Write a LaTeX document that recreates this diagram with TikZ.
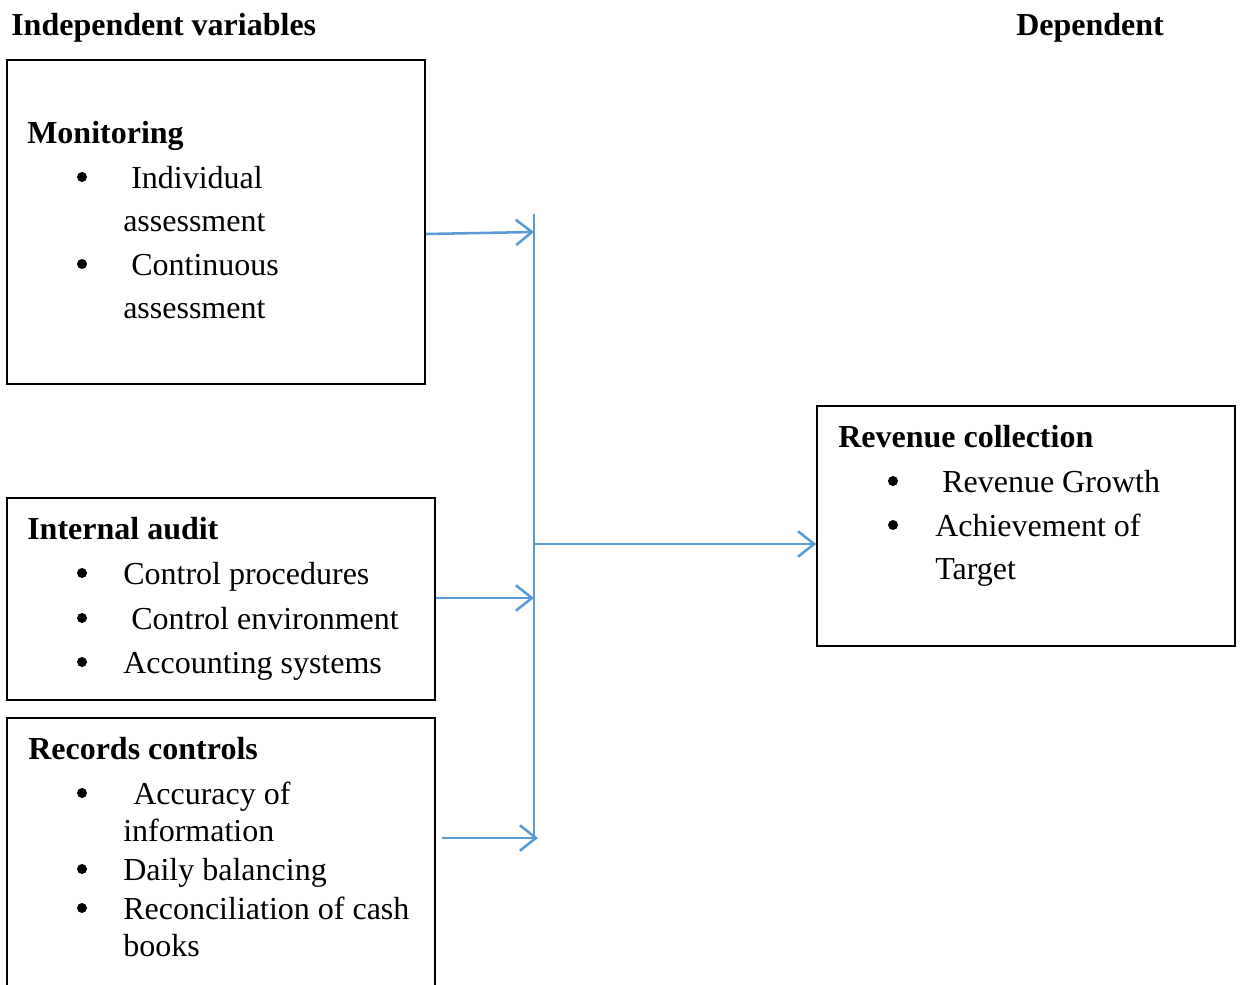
\documentclass[tikz,border=0pt]{standalone}
\usepackage{fontspec}
\setmainfont{Liberation Serif}
\usetikzlibrary{arrows.meta}
\definecolor{lnblue}{HTML}{5B9BD5}
\begin{document}
\begin{tikzpicture}[x=0.75pt,y=-0.75pt,
  box/.style={draw=black,line width=1.2pt,rectangle,inner sep=0pt},
  txt/.style={anchor=base west,inner sep=0pt,font=\fontsize{24}{29}\selectfont},
  hdr/.style={txt,font=\fontsize{24}{29}\selectfont\bfseries},
  bul/.style={fill=black,circle,inner sep=0pt,minimum size=7.5pt},
  arr/.style={draw=lnblue,line width=1.9pt,-{Straight Barb[length=12pt,width=19pt,line width=1.9pt]}},
  vline/.style={draw=lnblue,line width=1pt}]
\clip (0,0) rectangle (1240,985);
\useasboundingbox (0,0) rectangle (1240,985);
% headings
\node[hdr] (h1) at (11,36) {Independent variables};
\node[hdr] (h2) at (1016,36) {Dependent};
% boxes
\node[box,minimum width=313.5pt,minimum height=243pt] (mon) at (216,222) {};
\node[box,minimum width=321pt,minimum height=151.5pt] (aud) at (221,599) {};
\node[box,minimum width=321pt,minimum height=211.5pt] (rec) at (221,859) {};
\node[box,minimum width=313.5pt,minimum height=180pt] (rev) at (1026,526) {};
% Monitoring
\node[hdr] (m0) at (27,143) {Monitoring};
\node[bul] (mb1) at (82,177) {};
\node[txt] (m1) at (131,188) {Individual};
\node[txt] (m2) at (123,231) {assessment};
\node[bul] (mb2) at (82,264) {};
\node[txt] (m3) at (131,275) {Continuous};
\node[txt] (m4) at (123,318) {assessment};
% Internal audit
\node[hdr] (a0) at (27,539) {Internal audit};
\node[bul] (ab1) at (82,573) {};
\node[txt] (a1) at (123,584) {Control procedures};
\node[bul] (ab2) at (82,618) {};
\node[txt] (a2) at (131,629) {Control environment};
\node[bul] (ab3) at (82,662) {};
\node[txt] (a3) at (123,673) {Accounting systems};
% Records controls
\node[hdr] (r0) at (28,759) {Records controls};
\node[bul] (rb1) at (82,793) {};
\node[txt] (r1) at (133,804) {Accuracy of};
\node[txt] (r2) at (123,841) {information};
\node[bul] (rb2) at (82,869) {};
\node[txt] (r3) at (123,880) {Daily balancing};
\node[bul] (rb3) at (82,908) {};
\node[txt] (r4) at (123,919) {Reconciliation of cash};
\node[txt] (r5) at (123,956) {books};
% Revenue collection
\node[hdr] (v0) at (838,447) {Revenue collection};
\node[bul] (vb1) at (893,481) {};
\node[txt] (v1) at (942,492) {Revenue Growth};
\node[bul] (vb2) at (893,525) {};
\node[txt] (v2) at (935,536) {Achievement of};
\node[txt] (v3) at (935,579) {Target};
% connectors
\coordinate (vtop) at (534,214);
\coordinate (vbot) at (534,840);
\coordinate (j1) at (534,232);
\coordinate (j2) at (534,598);
\coordinate (s3) at (442,838);
\coordinate (j3) at (538,838);
\coordinate (j4) at (534,544);
\draw[vline] (vtop) -- (vbot);
\draw[arr] (mon.east |- 0,234) -- (j1);
\draw[arr] (aud.east |- j2) -- (j2);
\draw[arr] (s3) -- (j3);
\draw[arr] (j4) -- (rev.west |- j4);
\end{tikzpicture}
\end{document}
